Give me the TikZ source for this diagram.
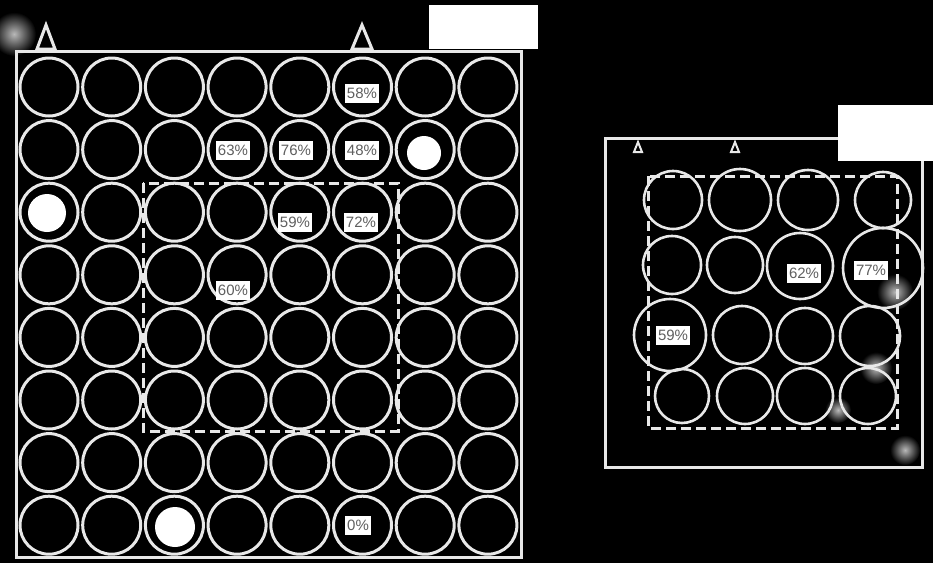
\documentclass[tikz,border=0pt]{standalone}
\usepackage{fontspec}
\setsansfont{Liberation Sans}
\definecolor{ringcolor}{RGB}{232,232,232}
\definecolor{labeltext}{RGB}{95,95,95}

\begin{document}
\begin{tikzpicture}[x=1pt,y=-1pt,
  ring/.style={draw=ringcolor, line width=3pt},
  frame/.style={draw=ringcolor, line width=3pt, line join=miter},
  dashframe/.style={draw=ringcolor, line width=3pt, dash pattern=on 10pt off 5pt},
  pct/.style={fill=white, text=labeltext, inner sep=2pt, minimum height=19pt,
    font=\sffamily\fontsize{15}{15}\selectfont},
  haze/.style={inner color=gray!55, outer color=black}]

  % --- Black photographic background, fixes the page size ---
  \useasboundingbox (0,0) rectangle (933,563);
  \fill[black] (0,0) rectangle (933,563);

  % --- Soft grey hazes (drawn first, under the rings) ---
  \shade[haze] (14,34) circle (22pt);
  \shade[haze] (895,292) circle (18pt);
  \shade[haze] (876,368) circle (16pt);
  \shade[haze] (838,410) circle (13pt);
  \shade[haze] (905,450) circle (15pt);

  % --- Left tray: frame, markers and the white tag ---
  \draw[frame] (16,51) rectangle (521,557);
  \draw[frame] (37,49) -- (46,25) -- (55,49) -- cycle;
  \draw[frame] (352,49) -- (362,25) -- (372,49) -- cycle;
  \fill[white] (429,5) rectangle (538,49);

  % --- Left tray: 8x8 rings ---
  \foreach \i in {0,...,7} {
    \foreach \j in {0,...,7} {
      \draw[ring] ({49+\i*62.7},{87+\j*62.6}) circle (29pt);
    }
  }

  % --- Left tray: filled wells ---
  \fill[white] (424,153) circle (17pt);
  \fill[white] (47,213) circle (19pt);
  \fill[white] (175,527) circle (20pt);

  % --- Left tray: dashed test zone ---
  \draw[dashframe] (143,183) rectangle (398,431);

  % --- Left tray: percentages ---
  \node[pct] (l58) at (362,93) {58\%};
  \node[pct] (l63) at (233,150) {63\%};
  \node[pct] (l76) at (296,150) {76\%};
  \node[pct] (l48) at (362,150) {48\%};
  \node[pct] (l59) at (295,222) {59\%};
  \node[pct] (l72) at (361,222) {72\%};
  \node[pct] (l60) at (233,290) {60\%};
  \node[pct] (l0) at (358,525) {0\%};

  % --- Right tray: frame, markers and the white tag ---
  \draw[frame] (838,138) -- (605,138) -- (605,467) -- (922,467) -- (922,160);
  \draw[frame, line width=2pt] (634,152) -- (638,142) -- (642,152) -- cycle;
  \draw[frame, line width=2pt] (731,152) -- (735,142) -- (739,152) -- cycle;
  \fill[white] (838,105) rectangle (933,161);

  % --- Right tray: 4x4 rings (x/y/radius) ---
  \foreach \x/\y/\r in {673/200/29, 740/200/31, 808/200/30, 883/200/28,
                        672/265/29, 735/265/28, 800/266/33, 883/268/40,
                        670/335/36, 742/335/29, 805/336/28, 870/336/30,
                        682/396/27, 745/396/28, 805/396/28, 868/396/28} {
    \draw[ring, line width=2.6pt] (\x,\y) circle (\r pt);
  }

  % --- Right tray: dashed test zone ---
  \draw[dashframe] (648,176) rectangle (897,428);

  % --- Right tray: percentages ---
  \node[pct] (r62) at (804,273) {62\%};
  \node[pct] (r77) at (871,270) {77\%};
  \node[pct] (r59) at (673,335) {59\%};

\end{tikzpicture}
\end{document}
